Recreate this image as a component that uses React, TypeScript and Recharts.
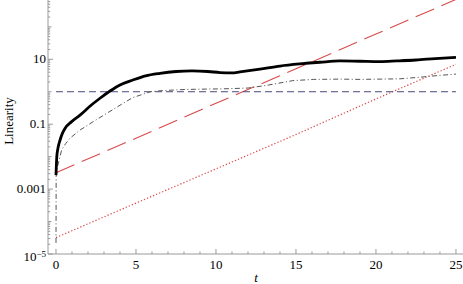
import React from 'react';
import { LineChart, Line, XAxis, YAxis, Label } from 'recharts';

// ---- data ----
const solidT = [0, 0.05, 0.12, 0.25, 0.4, 0.56, 0.98, 1.5, 2.1, 2.75, 3.4, 4, 4.8, 5.6, 6.5, 7.5, 8.5, 9.5, 10.25, 11, 11.5, 12.75, 14, 15.25, 16.5, 17.75, 19, 20.25, 21.3, 22.5, 23.7, 25];
const solidY = [0.0027, 0.01, 0.018, 0.032, 0.052, 0.074, 0.12, 0.19, 0.35, 0.63, 1.07, 1.62, 2.3, 3.1, 3.7, 4.2, 4.4, 4.2, 3.9, 3.8, 4.1, 5.0, 6.2, 7.2, 8.1, 8.9, 8.7, 8.5, 8.9, 9.5, 10.5, 11.5];

const dotDashT = [0, 0.01, 0.05, 0.15, 0.35, 0.6, 0.875, 1.5, 2.33, 3.2, 4.2, 4.8, 5.9, 6.5, 8, 9, 10.5, 12, 13.2, 14.8, 16.1, 17.75, 19, 20.25, 21.5, 22.75, 24, 25];
const dotDashY = [0.000022, 0.0025, 0.004, 0.0063, 0.016, 0.025, 0.037, 0.066, 0.12, 0.22, 0.44, 0.66, 1.0, 1.07, 1.17, 1.2, 1.23, 1.3, 1.58, 2.2, 2.4, 2.45, 2.4, 2.45, 2.5, 2.8, 3.2, 3.5];

const flatT = [0, 25];
const flatY = [1, 1];

const redDashT = [0, 5, 10, 15, 20, 25];
const redDashY = [0.0032, 0.037, 0.44, 5.1, 60, 700];

const redDotT = [0, 5, 10, 15, 20, 25];
const redDotY = [0.000032, 0.00037, 0.0042, 0.048, 0.6, 7.0];

const xTicks = [0, 1, 2, 3, 4, 5, 6, 7, 8, 9, 10, 11, 12, 13, 14, 15, 16, 17, 18, 19, 20, 21, 22, 23, 24, 25];
const xMajor = [0, 5, 10, 15, 20, 25];
const yMajor = [1e-5, 1e-3, 0.1, 10];
const yMajorLabels = ['10^-5', '0.001', '0.1', '10'];
const yDecades = [-5, -4, -3, -2, -1, 0, 1, 2];
const yMinorMult = [1, 2, 3, 4, 5, 6, 7, 8, 9];

const Y_TOP = Math.pow(10, 2.827);
const X_DOMAIN: [number, number] = [-0.5, 25.44];

const toRows = (ts: number[], vs: number[]) => ts.map((t, i) => ({ t, v: vs[i] }));
const solidData = toRows(solidT, solidY);
const dotDashData = toRows(dotDashT, dotDashY);
const flatData = toRows(flatT, flatY);
const redDashData = toRows(redDashT, redDashY);
const redDotData = toRows(redDotT, redDotY);

const yTicks: number[] = [];
yDecades.forEach((k) => {
  yMinorMult.forEach((m) => {
    const v = m * Math.pow(10, k);
    if (v <= Y_TOP) yTicks.push(v);
  });
});

const FONT = 'Liberation Serif';
const TXT: React.CSSProperties = { fontFamily: FONT, fontSize: 13 };
const AXIS_COLOR = '#9a9a9a';
const Y_MARGIN = 2;
const X_MARGIN = 2;

const YTick = (props: any) => {
  const { x, y, payload } = props;
  const v = payload.value as number;
  const axisX = x + Y_MARGIN;
  const lg = Math.log10(v);
  const isDecade = Math.abs(lg - Math.round(lg)) < 1e-6;
  const majorIdx = yMajor.findIndex((m) => Math.abs(Math.log10(m) - lg) < 1e-6);
  const len = majorIdx >= 0 ? 5 : isDecade ? 3.5 : 2.2;
  let label: React.ReactNode = null;
  if (majorIdx >= 0) {
    const txt = yMajorLabels[majorIdx];
    if (txt.includes('^')) {
      const [base, exp] = txt.split('^');
      label = (
        <text x={axisX - 2} y={y + 6.5} textAnchor="end" style={TXT} fill="#000">
          {base}
          <tspan dy={-4} style={{ fontFamily: FONT, fontSize: 9 }}>{exp.replace('-', '\u2212')}</tspan>
        </text>
      );
    } else {
      label = (
        <text x={axisX - 2} y={y + 4} textAnchor="end" style={TXT} fill="#000">
          {txt}
        </text>
      );
    }
  }
  return (
    <g>
      <line x1={axisX} x2={axisX + len} y1={y} y2={y} stroke={AXIS_COLOR} strokeWidth={1} />
      {label}
    </g>
  );
};

const XTick = (props: any) => {
  const { x, y, payload } = props;
  const v = payload.value as number;
  const axisY = y - X_MARGIN;
  const major = xMajor.includes(v);
  return (
    <g>
      <line x1={x} x2={x} y1={axisY} y2={axisY - (major ? 5 : 2.5)} stroke={AXIS_COLOR} strokeWidth={1} />
      {major && (
        <text x={x} y={axisY + 15} textAnchor="middle" style={TXT} fill="#000">
          {v}
        </text>
      )}
    </g>
  );
};

export default function App() {
  return (
    <div style={{ position: 'absolute', left: 0, top: 0, width: 463, height: 284, background: '#fff' }}>
      <LineChart width={463} height={284} margin={{ top: 0, right: 0, bottom: 0, left: 0 }}>
        <XAxis
          type="number"
          dataKey="t"
          domain={X_DOMAIN}
          allowDataOverflow
          ticks={xTicks}
          interval={0}
          height={30}
          tickLine={false}
          tickSize={0}
          tickMargin={X_MARGIN}
          axisLine={{ stroke: AXIS_COLOR }}
          tick={<XTick />}
        >
          <Label
            content={() => (
              <text x={256} y={282} textAnchor="middle" style={{ ...TXT, fontStyle: 'italic' }} fill="#000">
                t
              </text>
            )}
          />
        </XAxis>
        <YAxis
          type="number"
          scale="log"
          domain={[1e-5, Y_TOP]}
          allowDataOverflow
          ticks={yTicks}
          interval={0}
          width={48}
          tickLine={false}
          tickSize={0}
          tickMargin={Y_MARGIN}
          axisLine={{ stroke: AXIS_COLOR }}
          tick={<YTick />}
        >
          <Label
            content={() => (
              <text
                x={0}
                y={0}
                transform="translate(13, 121) rotate(-90)"
                textAnchor="middle"
                style={TXT}
                fill="#000"
              >
                Linearity
              </text>
            )}
          />
        </YAxis>
        <Line data={redDotData} dataKey="v" type="linear" stroke="#d94a4a" strokeWidth={1.2} strokeDasharray="1.3 2" dot={false} isAnimationActive={false} />
        <Line data={redDashData} dataKey="v" type="linear" stroke="#d94a4a" strokeWidth={1.1} strokeDasharray="20 8" dot={false} isAnimationActive={false} />
        <Line data={flatData} dataKey="v" type="linear" stroke="#4a4a7a" strokeWidth={1} strokeDasharray="7 4" dot={false} isAnimationActive={false} />
        <Line data={dotDashData} dataKey="v" type="linear" stroke="#555555" strokeWidth={1} strokeDasharray="5 2.5 1 2.5" dot={false} isAnimationActive={false} />
        <Line data={solidData} dataKey="v" type="monotone" stroke="#000" strokeWidth={2.8} dot={false} isAnimationActive={false} />
      </LineChart>
    </div>
  );
}
